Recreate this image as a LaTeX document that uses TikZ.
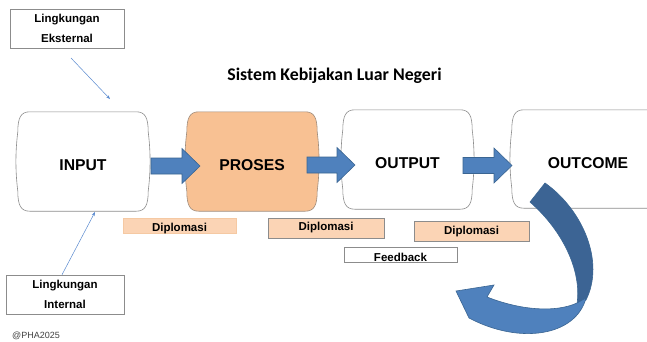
\documentclass[tikz,border=0pt]{standalone}
\usepackage{fontspec}
\setmainfont{Liberation Sans}
\newfontfamily\titlefont{Carlito}
\usetikzlibrary{backgrounds,calc,arrows.meta}
\definecolor{boxgray}{HTML}{8C8C8C}
\definecolor{procfill}{HTML}{F8C193}
\definecolor{procline}{HTML}{9E8B7B}
\definecolor{peach}{HTML}{FBD4B5}
\definecolor{peachline}{HTML}{F5C9A3}
\definecolor{blockblue}{HTML}{4F81BD}
\definecolor{blockedge}{HTML}{3A6592}
\definecolor{darkblue}{HTML}{3C6494}
\definecolor{thinblue}{HTML}{5B8BD0}
\definecolor{marktext}{HTML}{404040}

\newcommand{\softbox}[2]{%
\path[#2] ([xshift=12pt]#1.north west) -- ([xshift=-12pt]#1.north east)
 .. controls ([xshift=-3pt]#1.north east) and ([yshift=-6pt]#1.north east) .. ([yshift=-20pt]#1.north east)
 .. controls ([xshift=2.5pt,yshift=-40pt]#1.north east) and ([xshift=2.5pt,yshift=40pt]#1.south east) .. ([yshift=20pt]#1.south east)
 .. controls ([yshift=6pt]#1.south east) and ([xshift=-3pt]#1.south east) .. ([xshift=-12pt]#1.south east)
 -- ([xshift=12pt]#1.south west)
 .. controls ([xshift=3pt]#1.south west) and ([yshift=6pt]#1.south west) .. ([yshift=20pt]#1.south west)
 .. controls ([xshift=-2.5pt,yshift=40pt]#1.south west) and ([xshift=-2.5pt,yshift=-40pt]#1.north west) .. ([yshift=-20pt]#1.north west)
 .. controls ([yshift=-6pt]#1.north west) and ([xshift=3pt]#1.north west) .. cycle;}

\newcommand{\blockarrow}[2]{%
\path[blockstyle] let \p1=(#1), \p2=(#2) in
 (\x1,\y1+8pt) -- (\x2-18pt,\y1+8pt) -- (\x2-18pt,\y1+17.5pt) -- (\x2,\y1)
 -- (\x2-18pt,\y1-17.5pt) -- (\x2-18pt,\y1-8pt) -- (\x1,\y1-8pt) -- cycle;}

\begin{document}
\begin{tikzpicture}[x=1pt,y=-1pt,
  bigbox/.style={minimum width=130pt, minimum height=99pt, inner sep=0pt, draw=none},
  bigtxt/.style={font=\bfseries\fontsize{15.7}{18}\selectfont, inner sep=0pt},
  smalltxt/.style={font=\bfseries\fontsize{11.5}{14}\selectfont, inner sep=0pt},
  envbox/.style={draw=boxgray, line width=0.6pt, fill=white, minimum height=39pt, inner sep=0pt,
     align=center, font=\bfseries\fontsize{11.5}{19.3}\selectfont},
  dipbox/.style={fill=peach, draw=boxgray, line width=0.6pt, inner sep=0pt},
  fbbox/.style={fill=white, draw=boxgray, line width=0.6pt, inner sep=0pt},
  blockstyle/.style={fill=blockblue, draw=blockedge, line width=0.6pt},
  thinarrow/.style={draw=thinblue, line width=0.5pt, -{Stealth[length=4pt,width=3pt]}},
  plainbox/.style={draw=boxgray, line width=0.6pt, fill=white},
  procbox/.style={draw=procline, line width=0.6pt, fill=procfill}
]
\useasboundingbox (0,0) rectangle (647,341);
\begin{scope}[on background layer]
  \fill[white] (0,0) rectangle (647,341);
\end{scope}

% title
\node[font=\titlefont\bfseries\fontsize{17.8}{20}\selectfont, inner sep=0pt] (title) at (334.5,76) {Sistem Kebijakan Luar Negeri};

% environment boxes
\node[envbox, minimum width=114pt] (ext) at (67,28.5) {Lingkungan\\Eksternal};
\node[envbox, minimum width=118pt] (int) at (65,294.5) {Lingkungan\\Internal};

% main boxes
\node[bigbox, label={[bigtxt,yshift=-3.5pt]center:INPUT}] (in) at (83,161.5) {};
\node[bigbox, label={[bigtxt,yshift=-4pt]center:PROSES}] (pro) at (252,161.5) {};
\node[bigbox, minimum width=129pt, label={[bigtxt,yshift=-3.5pt]center:OUTPUT}] (out) at (407.5,159.5) {};
\node[bigbox, minimum width=152pt, minimum height=98pt, label={[bigtxt,yshift=-4pt]center:OUTCOME}] (outc) at (588,159) {};

\begin{scope}[on background layer]
  \clip (0,0) rectangle (647,341);
  \softbox{in}{plainbox}
  \softbox{pro}{procbox}
  \softbox{out}{plainbox}
  \softbox{outc}{plainbox}
\end{scope}

% block arrows
\coordinate (a1s) at (151,166); \coordinate (a1e) at (200,166);
\coordinate (a2s) at (307,165); \coordinate (a2e) at (355,165);
\coordinate (a3s) at (463,165.5); \coordinate (a3e) at (512,165.5);
\blockarrow{a1s}{a1e}
\blockarrow{a2s}{a2e}
\blockarrow{a3s}{a3e}

% diplomasi and feedback boxes
\node[dipbox, draw=peachline, minimum width=113pt, minimum height=15pt,
      label={[smalltxt,yshift=-2.9pt]center:Diplomasi}] (d1) at (179.5,225.5) {};
\node[dipbox, minimum width=116pt, minimum height=20pt,
      label={[smalltxt]center:Diplomasi}] (d2) at (326,228) {};
\node[dipbox, minimum width=115pt, minimum height=20pt,
      label={[smalltxt,yshift=-0.7pt]center:Diplomasi}] (d3) at (471.5,231) {};
\node[fbbox, minimum width=113pt, minimum height=15pt,
      label={[smalltxt,yshift=-3.3pt]center:Feedback}] (fb) at (400.5,254.5) {};

% thin connectors
\coordinate (e1) at (71,58);
\coordinate (e2) at (110,99);
\draw[thinarrow] (e1) -- (e2);
\coordinate (i2) at (95,212);
\draw[thinarrow] ([xshift=-3pt]int.north) -- (i2);

% curved feedback arrow
\filldraw[fill=darkblue, draw=blockedge, line width=0.6pt]
  (530,202) -- (545,183) .. controls (583,210) and (605,262) .. (586,300)
  -- (577,304) .. controls (582,270) and (562,230) .. (530,202) -- cycle;
\filldraw[fill=blockblue, draw=blockedge, line width=0.6pt]
  (586,298) .. controls (576,336) and (520,345) .. (469,318)
  -- (456,291) -- (494,285) -- (487,297)
  .. controls (520,310) and (555,313) .. (577,303) -- cycle;

% mark
\node[anchor=west, inner sep=0pt, text=marktext, font=\fontsize{9}{10}\selectfont] (mark) at (12,336) {@PHA2025};
\end{tikzpicture}
\end{document}
